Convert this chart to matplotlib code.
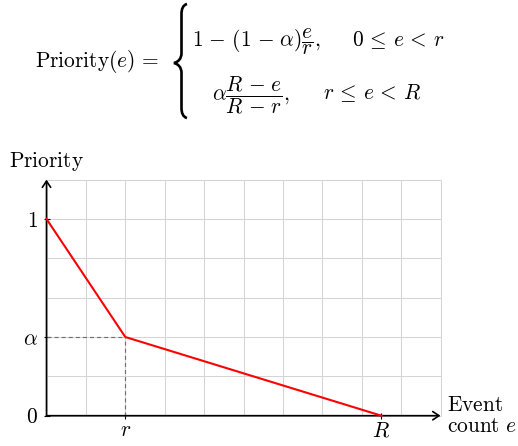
import numpy as np
import matplotlib
matplotlib.use('Agg')
import matplotlib.pyplot as plt
from matplotlib.path import Path
from matplotlib.patches import PathPatch

plt.rcParams['mathtext.fontset'] = 'cm'
plt.rcParams['font.family'] = 'cmr10'
plt.rcParams['axes.unicode_minus'] = False

# grid units: the picture is drawn on a 10 x 6 grid
r_pos = 2
R_pos = 8.5
alpha_level = 2
top_level = 5
e_knots = [0, r_pos, R_pos]
prio_knots = [top_level, alpha_level, 0]
grid_x = np.arange(0, 11)
grid_y = np.arange(0, 7)
xtick_pos = [r_pos, R_pos]
xtick_labels = [r'$r$', r'$R$']
ytick_pos = [0, alpha_level, top_level]
ytick_labels = [r'$0$', r'$\alpha$', r'$1$']

W, H = 518, 446
FS = 15.4
fig = plt.figure(figsize=(W / 100, H / 100), dpi=100)
ax = fig.add_axes([46.5 / W, 30.3 / H, 394 / W, 236.1 / H])
ax.set_xlim(0, 10)
ax.set_ylim(0, 6)
ax.patch.set_visible(False)
for s in ax.spines.values():
    s.set_visible(False)

# grid
ax.vlines(grid_x, 0, 6, color='#d4d4d4', lw=0.75, zorder=0, clip_on=False)
ax.hlines(grid_y, 0, 10, color='#d4d4d4', lw=0.75, zorder=0, clip_on=False)

# axes with arrows
arrow = dict(arrowstyle='->,head_length=0.45,head_width=0.3', lw=1.2,
             color='black', shrinkA=0, shrinkB=0)
ax.annotate('', xy=(10, 0), xytext=(0, 0), arrowprops=arrow, annotation_clip=False)
ax.annotate('', xy=(0, 6), xytext=(0, 0), arrowprops=arrow, annotation_clip=False)

# helper dashed lines
ax.plot([0, r_pos], [alpha_level, alpha_level], color='#707070', lw=0.85,
        dashes=(3.4, 2.6), clip_on=False, zorder=2)
ax.plot([r_pos, r_pos], [0, alpha_level], color='#707070', lw=0.85,
        dashes=(3.4, 2.6), clip_on=False, zorder=2)

# priority curve
ax.plot(e_knots, prio_knots, color='red', lw=1.5, clip_on=False, zorder=3)

ax.set_xticks(xtick_pos)
ax.set_xticklabels(xtick_labels, fontsize=FS)
ax.set_yticks(ytick_pos)
ax.set_yticklabels(ytick_labels, fontsize=FS)
ax.tick_params(axis='both', direction='inout', length=5, width=0.8, color='black')
ax.tick_params(axis='x', pad=1)
ax.tick_params(axis='y', pad=3.5)

ax.annotate(r'$\mathrm{Priority}$', xy=(0, 6), xytext=(0, 5), textcoords='offset points',
            ha='center', va='bottom', fontsize=FS, annotation_clip=False)
ax.annotate(r'$\mathrm{Event}$' + '\n' + r'$\mathrm{count}\ e$', xy=(10, 0), xytext=(4.5, 0),
            textcoords='offset points', ha='left', va='center', fontsize=FS,
            multialignment='left', linespacing=1.1, annotation_clip=False)

# formula on top
def fx(px):
    return px / W

def fy(py):
    return 1 - py / H

M = r'\,\,{-}\,\,'  # minus with TeX-like spacing
fig.text(fx(35), fy(67), r'$\mathrm{Priority}(e) \,=\,$', ha='left', va='baseline', fontsize=FS)
fig.text(fx(191.7), fy(46), r'$1' + M + r'(1' + M + r'\alpha)\dfrac{e}{r},$',
         ha='left', va='baseline', fontsize=FS)
fig.text(fx(351.7), fy(46), r'$0 \,\leq\, e \,<\, r$', ha='left', va='baseline', fontsize=FS)
fig.text(fx(212.3), fy(99.5), r'$\alpha\dfrac{R' + M + r'e}{R' + M + r'r},$',
         ha='left', va='baseline', fontsize=FS)
fig.text(fx(323.3), fy(99.5), r'$r \,\leq\, e \,<\, R$', ha='left', va='baseline', fontsize=FS)

# left brace of the cases
bx, tip = 181.5, 174
pts = [(187, 4), (183, 5), (bx, 9), (bx, 14), (bx, 53),
       (bx, 59), (178, 62), (tip, 63),
       (178, 64), (bx, 67), (bx, 73), (bx, 108),
       (bx, 113), (183, 117), (187, 118)]
codes = [Path.MOVETO, Path.CURVE4, Path.CURVE4, Path.CURVE4, Path.LINETO,
         Path.CURVE4, Path.CURVE4, Path.CURVE4,
         Path.CURVE4, Path.CURVE4, Path.CURVE4, Path.LINETO,
         Path.CURVE4, Path.CURVE4, Path.CURVE4]
brace = Path([(fx(x), fy(y)) for x, y in pts], codes)
fig.add_artist(PathPatch(brace, transform=fig.transFigure, fill=False,
                         lw=1.9, edgecolor='black', capstyle='butt'))

fig.savefig('out.png', dpi=100)
